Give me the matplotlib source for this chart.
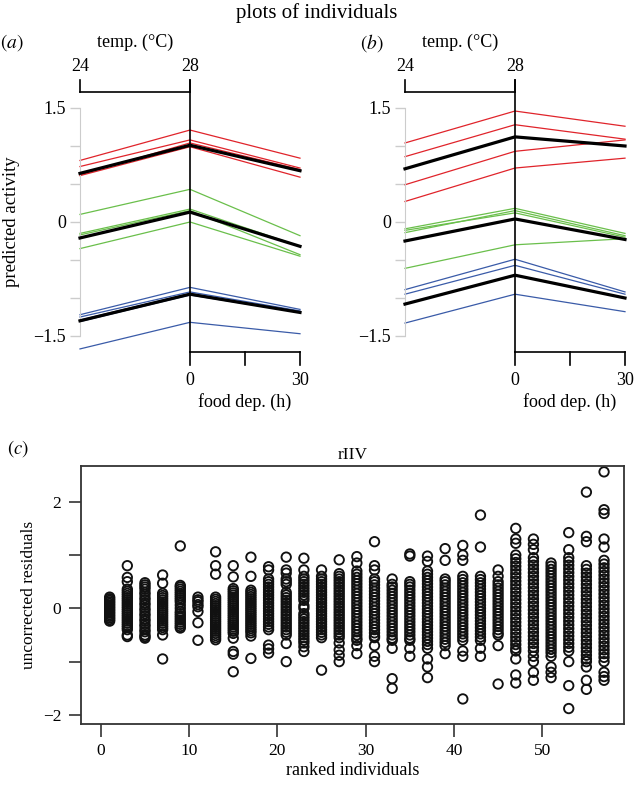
import numpy as np
import matplotlib
matplotlib.use("Agg")
import matplotlib.pyplot as plt

plt.rcParams['font.family'] = ['Liberation Serif', 'DejaVu Serif']
plt.rcParams['mathtext.fontset'] = 'stix'

red, green, blue = '#e0242b', '#6abf4b', '#3a5ba8'

# panel (a): values at 24C (food 0h), 28C (food 0h), 28C (food 30h)
a_red = [[0.81, 1.21, 0.84], [0.73, 1.08, 0.71], [0.62, 1.04, 0.69], [0.61, 0.99, 0.59]]
a_red_mean = [0.64, 1.01, 0.675]
a_green = [[0.10, 0.43, -0.18], [-0.15, 0.17, -0.32], [-0.17, 0.15, -0.43], [-0.35, 0.0, -0.45]]
a_green_mean = [-0.21, 0.13, -0.32]
a_blue = [[-1.22, -0.86, -1.15], [-1.25, -0.92, -1.17], [-1.29, -0.94, -1.18],
          [-1.31, -0.96, -1.19], [-1.67, -1.32, -1.47]]
a_blue_mean = [-1.30, -0.95, -1.19]

# panel (b)
b_red = [[1.04, 1.46, 1.26], [0.86, 1.28, 1.09], [0.49, 0.93, 1.08], [0.27, 0.71, 0.84]]
b_red_mean = [0.70, 1.12, 1.00]
b_green = [[-0.09, 0.18, -0.15], [-0.14, 0.15, -0.18], [-0.11, 0.12, -0.20], [-0.61, -0.30, -0.22]]
b_green_mean = [-0.25, 0.04, -0.23]
b_blue = [[-0.89, -0.49, -0.92], [-0.95, -0.57, -0.95], [-1.33, -0.95, -1.18]]
b_blue_mean = [-1.08, -0.70, -1.00]

# panel (c): residuals per ranked individual
ranks = list(range(1, 58, 2))
resid = [
    [0.21, 0.18, 0.15, 0.12, 0.09, 0.06, 0.03, 0.0, -0.03, -0.06, -0.09, -0.12, -0.15, -0.18, -0.21, -0.24],
    [0.8, 0.58, 0.5, 0.36, 0.32, 0.28, 0.24, 0.2, 0.16, 0.12, 0.08, 0.04, 0.0, -0.04, -0.08, -0.12, -0.16, -0.2, -0.24, -0.28, -0.32, -0.36, -0.4, -0.5, -0.53],
    [0.48, 0.44, 0.4, 0.36, 0.3, 0.26, 0.2, 0.16, 0.1, 0.06, 0.0, -0.04, -0.1, -0.14, -0.2, -0.24, -0.3, -0.34, -0.4, -0.44, -0.5, -0.53, -0.56],
    [0.625, 0.47, 0.28, 0.24, 0.2, 0.16, 0.12, 0.08, 0.04, 0.0, -0.04, -0.08, -0.12, -0.16, -0.2, -0.24, -0.28, -0.32, -0.36, -0.4, -0.5, -0.95],
    [1.17, 0.43, 0.4, 0.36, 0.32, 0.28, 0.24, 0.2, 0.16, 0.12, 0.06, 0.0, -0.06, -0.1, -0.14, -0.18, -0.22, -0.26, -0.3, -0.34, -0.37],
    [0.21, 0.16, 0.125, 0.07, 0.03, -0.06, -0.27, -0.6],
    [1.06, 0.8, 0.64, 0.21, 0.17, 0.13, 0.09, 0.05, 0.01, -0.03, -0.07, -0.11, -0.15, -0.19, -0.23, -0.27, -0.31, -0.35, -0.39, -0.43, -0.47, -0.51, -0.55, -0.59],
    [0.8, 0.59, 0.37, 0.33, 0.29, 0.25, 0.21, 0.17, 0.13, 0.09, 0.05, 0.01, -0.03, -0.07, -0.11, -0.15, -0.19, -0.23, -0.27, -0.31, -0.35, -0.39, -0.43, -0.47, -0.56, -0.81, -0.86, -1.19],
    [0.96, 0.6, 0.34, 0.3, 0.26, 0.22, 0.18, 0.14, 0.1, 0.06, 0.02, -0.02, -0.06, -0.1, -0.14, -0.18, -0.22, -0.26, -0.3, -0.34, -0.38, -0.42, -0.46, -0.52, -0.94],
    [0.78, 0.72, 0.55, 0.5, 0.45, 0.4, 0.35, 0.3, 0.25, 0.2, 0.15, 0.1, 0.05, 0.0, -0.05, -0.1, -0.15, -0.2, -0.25, -0.3, -0.35, -0.4, -0.69, -0.76, -0.84],
    [0.96, 0.72, 0.66, 0.55, 0.5, 0.45, 0.3, 0.25, 0.2, 0.15, 0.1, 0.05, 0.0, -0.05, -0.1, -0.15, -0.2, -0.25, -0.3, -0.35, -0.4, -0.45, -0.5, -0.66, -1.0],
    [0.94, 0.72, 0.6, 0.55, 0.5, 0.45, 0.4, 0.35, 0.3, 0.25, 0.2, 0.15, 0.05, 0.0, -0.1, -0.15, -0.2, -0.25, -0.3, -0.35, -0.4, -0.45, -0.5, -0.55, -0.6, -0.65, -0.72, -0.81],
    [0.72, 0.6, 0.55, 0.5, 0.45, 0.4, 0.35, 0.3, 0.25, 0.2, 0.15, 0.1, 0.05, 0.0, -0.05, -0.1, -0.15, -0.2, -0.25, -0.3, -0.35, -0.4, -0.45, -0.5, -0.55, -1.16],
    [0.91, 0.65, 0.6, 0.55, 0.5, 0.45, 0.4, 0.35, 0.3, 0.25, 0.2, 0.15, 0.1, 0.05, 0.0, -0.05, -0.1, -0.15, -0.2, -0.25, -0.3, -0.35, -0.4, -0.45, -0.5, -0.55, -0.65, -0.78, -0.88, -1.0],
    [0.97, 0.85, 0.7, 0.64, 0.58, 0.52, 0.46, 0.4, 0.34, 0.28, 0.22, 0.16, 0.1, 0.04, -0.02, -0.08, -0.14, -0.2, -0.26, -0.32, -0.38, -0.44, -0.5, -0.56, -0.6, -0.7, -0.85],
    [1.25, 0.8, 0.72, 0.55, 0.5, 0.44, 0.38, 0.32, 0.26, 0.2, 0.14, 0.08, 0.02, -0.04, -0.1, -0.16, -0.22, -0.28, -0.34, -0.4, -0.46, -0.52, -0.55, -0.7, -0.9, -1.0],
    [0.55, 0.45, 0.4, 0.34, 0.28, 0.22, 0.16, 0.1, 0.04, -0.02, -0.08, -0.14, -0.2, -0.26, -0.32, -0.38, -0.44, -0.5, -0.56, -0.6, -0.75, -1.32, -1.5],
    [1.02, 0.98, 0.5, 0.45, 0.4, 0.34, 0.28, 0.22, 0.16, 0.1, 0.04, -0.02, -0.08, -0.14, -0.2, -0.26, -0.32, -0.38, -0.44, -0.5, -0.56, -0.6, -0.75, -0.9],
    [0.98, 0.88, 0.7, 0.64, 0.58, 0.52, 0.46, 0.4, 0.34, 0.28, 0.22, 0.16, 0.1, 0.04, -0.02, -0.08, -0.14, -0.2, -0.26, -0.32, -0.38, -0.44, -0.5, -0.56, -0.62, -0.68, -0.75, -0.95, -1.1, -1.3],
    [1.12, 0.9, 0.55, 0.5, 0.44, 0.38, 0.32, 0.26, 0.2, 0.14, 0.08, 0.02, -0.04, -0.1, -0.16, -0.22, -0.28, -0.34, -0.4, -0.46, -0.52, -0.58, -0.64, -0.7, -0.85],
    [1.18, 1.0, 0.9, 0.6, 0.54, 0.48, 0.42, 0.36, 0.3, 0.24, 0.18, 0.12, 0.06, 0.0, -0.06, -0.12, -0.18, -0.24, -0.3, -0.36, -0.42, -0.48, -0.54, -0.6, -0.8, -0.9, -1.7],
    [1.75, 1.15, 0.6, 0.54, 0.48, 0.42, 0.36, 0.3, 0.24, 0.18, 0.12, 0.06, 0.0, -0.06, -0.12, -0.18, -0.24, -0.3, -0.36, -0.42, -0.48, -0.54, -0.6, -0.75, -0.9],
    [0.72, 0.6, 0.5, 0.44, 0.38, 0.32, 0.26, 0.2, 0.14, 0.08, 0.02, -0.04, -0.1, -0.16, -0.22, -0.28, -0.34, -0.4, -0.46, -0.5, -0.7, -1.42],
    [1.5, 1.3, 1.22, 1.0, 0.93, 0.86, 0.79, 0.72, 0.65, 0.58, 0.51, 0.44, 0.37, 0.3, 0.23, 0.16, 0.09, 0.02, -0.05, -0.12, -0.19, -0.26, -0.33, -0.4, -0.47, -0.54, -0.61, -0.68, -0.75, -0.8, -0.95, -1.25, -1.4],
    [1.3, 1.2, 1.1, 0.95, 0.88, 0.81, 0.74, 0.67, 0.6, 0.53, 0.46, 0.39, 0.32, 0.25, 0.18, 0.11, 0.04, -0.03, -0.1, -0.17, -0.24, -0.31, -0.38, -0.45, -0.52, -0.59, -0.66, -0.73, -0.8, -0.9, -1.0, -1.2, -1.35],
    [0.85, 0.79, 0.73, 0.67, 0.61, 0.55, 0.49, 0.43, 0.37, 0.31, 0.25, 0.19, 0.13, 0.07, 0.01, -0.05, -0.11, -0.17, -0.23, -0.29, -0.35, -0.41, -0.47, -0.53, -0.59, -0.65, -0.71, -0.77, -0.83, -0.9, -1.1, -1.2, -1.3],
    [1.42, 1.1, 0.95, 0.88, 0.81, 0.74, 0.67, 0.6, 0.53, 0.46, 0.39, 0.32, 0.25, 0.18, 0.11, 0.04, -0.03, -0.1, -0.17, -0.24, -0.31, -0.38, -0.45, -0.52, -0.59, -0.66, -0.73, -0.8, -1.0, -1.45, -1.88],
    [2.18, 1.35, 1.25, 0.8, 0.73, 0.66, 0.59, 0.52, 0.45, 0.38, 0.31, 0.24, 0.17, 0.1, 0.03, -0.04, -0.11, -0.18, -0.25, -0.32, -0.39, -0.46, -0.53, -0.6, -0.67, -0.74, -0.81, -0.88, -0.95, -1.0, -1.1, -1.35, -1.52],
    [2.56, 1.85, 1.78, 1.3, 1.15, 0.9, 0.83, 0.76, 0.69, 0.62, 0.55, 0.48, 0.41, 0.34, 0.27, 0.2, 0.13, 0.06, -0.01, -0.08, -0.15, -0.22, -0.29, -0.36, -0.43, -0.5, -0.57, -0.64, -0.71, -0.78, -0.85, -0.92, -1.0, -1.2, -1.28, -1.35],
]

fs = 13
fig = plt.figure(figsize=(6.34, 7.86), dpi=100)
fig.text(0.5, 1 - 13 / 786, "plots of individuals", ha="center", va="center", fontsize=15)


def individuals(rect, groups, letter, lx):
    ax = fig.add_axes(rect)
    x = [0, 1, 2]
    for lines, mean, col in groups:
        for y in lines:
            ax.plot(x, y, color=col, lw=0.9, clip_on=False)
        ax.plot(x, mean, color="black", lw=2.3, clip_on=False, zorder=3)
    ax.set_xlim(0, 2)
    ax.set_ylim(-1.5, 1.5)
    for s in ["top", "right", "bottom"]:
        ax.spines[s].set_visible(False)
    ax.spines["left"].set_color("#cccccc")
    ax.spines["left"].set_bounds(-1.5, 1.5)
    ax.set_xticks([])
    ax.set_yticks([-1.5, -1, -0.5, 0, 0.5, 1, 1.5])
    ax.set_yticklabels(["\u22121.5", "", "", "0", "", "", "1.5"])
    ax.tick_params(axis="y", color="#cccccc", length=7, width=1, labelsize=fs, pad=3)
    k = dict(color="black", lw=1.2, clip_on=False)
    # temperature axis on top
    ax.plot([0, 1], [1.71, 1.71], **k)
    ax.plot([0, 0], [1.71, 1.87], **k)
    ax.plot([1, 1], [1.71, 1.87], **k)
    ax.text(0, 2.04, "24", ha="center", va="center", fontsize=fs)
    ax.text(1, 2.04, "28", ha="center", va="center", fontsize=fs)
    ax.text(0.5, 2.36, "temp. (\u00b0C)", ha="center", va="center", fontsize=fs)
    # centre line and food deprivation axis
    ax.plot([1, 1], [1.87, -1.71], **k)
    ax.plot([1, 2], [-1.71, -1.71], **k)
    for t in [1, 1.5, 2]:
        ax.plot([t, t], [-1.71, -1.88], **k)
    ax.text(1, -2.08, "0", ha="center", va="center", fontsize=fs)
    ax.text(2, -2.08, "30", ha="center", va="center", fontsize=fs)
    ax.text(1.5, -2.37, "food dep. (h)", ha="center", va="center", fontsize=fs)
    ax.text(lx, 2.36, r"$(\mathit{" + letter + "})$", ha="center", va="center", fontsize=fs + 1)
    return ax


axa = individuals([80 / 634, 1 - 336 / 786, 220 / 634, 228 / 786],
                  [(a_red, a_red_mean, red), (a_green, a_green_mean, green), (a_blue, a_blue_mean, blue)],
                  "a", -0.62)
axa.set_ylabel("predicted activity", fontsize=fs + 0.5, labelpad=10)
axb = individuals([405 / 634, 1 - 336 / 786, 220 / 634, 228 / 786],
                  [(b_red, b_red_mean, red), (b_green, b_green_mean, green), (b_blue, b_blue_mean, blue)],
                  "b", -0.30)

# panel (c)
fc = 12.5
axc = fig.add_axes([80.7 / 634, 1 - 724 / 786, 543.3 / 634, 258 / 786])
for r, vals in zip(ranks, resid):
    axc.scatter([r] * len(vals), vals, s=46, facecolors="none", edgecolors="#111111", linewidths=1.35)
axc.set_xlim(-2.28, 59.26)
axc.set_ylim(-2.17, 2.67)
for s in axc.spines.values():
    s.set_linewidth(1.3)
    s.set_color("#333333")
axc.set_yticks([-2, -1, 0, 1, 2])
axc.set_yticklabels(["\u22122", "", "0", "", "2"])
axc.set_xticks([0, 10, 20, 30, 40, 50])
axc.tick_params(length=9, width=1.2, color="#333333", labelsize=fc, pad=5)
axc.set_xlabel("ranked individuals", fontsize=fc + 0.5, labelpad=2)
axc.set_ylabel("uncorrected residuals", fontsize=fc, labelpad=4)
axc.set_title("rIIV", fontsize=fc, pad=5)
fig.text(18 / 634, 1 - 449 / 786, r"$(\mathit{c})$", ha="center", va="center", fontsize=fc + 1)

fig.savefig("out.png", dpi=100)
